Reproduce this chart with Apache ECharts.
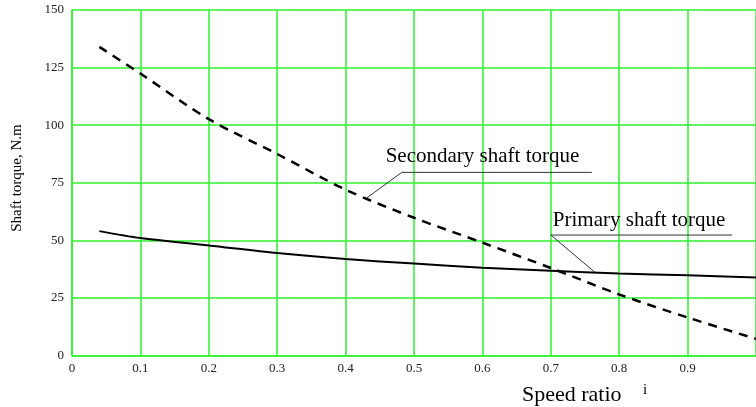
<!DOCTYPE html>
<html>
<head>
<meta charset="utf-8">
<script src="https://cdn.jsdelivr.net/npm/echarts@6/dist/echarts.min.js"></script>
<style>
  html, body { margin: 0; padding: 0; background: #fff; }
  #chart { width: 756px; height: 407px; }
</style>
</head>
<body>
<div id="chart"></div>
<script>
// speed ratio points
const speedRatio = [0.04, 0.1, 0.2, 0.3, 0.4, 0.5, 0.6, 0.7, 0.8, 0.9, 1.0];
const secondaryTorque = [134, 122.4, 102.6, 87.5, 72, 59.8, 49, 38, 26.5, 16.5, 7.2];
const primaryTorque = [54, 51, 47.8, 44.5, 41.9, 39.9, 38.1, 36.8, 35.6, 34.8, 33.9];
const yTicks = [0, 25, 50, 75, 100, 125, 150];

const chart = echarts.init(document.getElementById('chart'));
const serif = '"Liberation Serif", "DejaVu Serif", serif';
const green = '#2cf22c';

const toPairs = (ys) => speedRatio.map((x, i) => [x, ys[i]]);

const option = {
  animation: false,
  grid: { left: 72, top: 10, width: 684, height: 345.5, containLabel: false, outerBoundsMode: 'none' },
  xAxis: {
    type: 'value',
    min: 0,
    max: 1,
    interval: 0.1,
    axisLine: { show: true, onZero: false, lineStyle: { color: green, width: 1.5 } },
    axisTick: { show: false },
    splitLine: { show: true, lineStyle: { color: green, width: 1.5 } },
    axisLabel: {
      color: '#222',
      fontFamily: serif,
      fontSize: 13,
      margin: 7,
      formatter: (v) => (v >= 1 ? '' : String(Math.round(v * 10) / 10)),
    },
  },
  yAxis: {
    type: 'value',
    min: yTicks[0],
    max: yTicks[yTicks.length - 1],
    interval: 25,
    axisLine: { show: true, lineStyle: { color: green, width: 1.5 } },
    axisTick: { show: false },
    splitLine: { show: true, lineStyle: { color: green, width: 1.5 } },
    axisLabel: { color: '#222', fontFamily: serif, fontSize: 13, margin: 8 },
  },
  series: [
    {
      name: 'Secondary shaft torque',
      type: 'line',
      data: toPairs(secondaryTorque),
      smooth: 0.3,
      showSymbol: false,
      lineStyle: { color: '#000', width: 2.5, type: [9, 7] },
    },
    {
      name: 'Primary shaft torque',
      type: 'line',
      data: toPairs(primaryTorque),
      smooth: 0.3,
      showSymbol: false,
      lineStyle: { color: '#000', width: 2 },
    },
  ],
};
chart.setOption(option);

// labels with leader lines, anchored in data coordinates
const px = (x, y) => chart.convertToPixel({ gridIndex: 0 }, [x, y]);
const secTip = px(0.43, 68.2);
const secBar = px(0.482, 79.5);
const secEnd = px(0.76, 79.5);
const priTip = px(0.765, 36.0);
const priBar = px(0.7, 52.3);
const priEnd = px(0.965, 52.3);

const label = (text, x, y, size) => ({
  type: 'text',
  x, y,
  style: { text, fill: '#000', font: `${size}px ${serif}`, textAlign: 'left', textVerticalAlign: 'middle' },
});
const seg = (a, b) => ({
  type: 'line',
  shape: { x1: a[0], y1: a[1], x2: b[0], y2: b[1] },
  style: { stroke: '#333', lineWidth: 1 },
});

chart.setOption({
  graphic: [
    label('Secondary shaft torque', secBar[0] - 16, secBar[1] - 16, 21),
    seg(secTip, secBar),
    seg(secBar, secEnd),
    label('Primary shaft torque', priBar[0] + 2, priBar[1] - 15, 21),
    seg(priTip, priBar),
    seg(priBar, priEnd),
    label('Speed ratio', 522, 395, 22),
    label('i', 643, 390, 15),
    {
      type: 'text',
      x: 17,
      y: 178,
      rotation: Math.PI / 2,
      style: { text: 'Shaft torque, N.m', fill: '#000', font: `15px ${serif}`, textAlign: 'center', textVerticalAlign: 'middle' },
    },
  ],
});
</script>
</body>
</html>
